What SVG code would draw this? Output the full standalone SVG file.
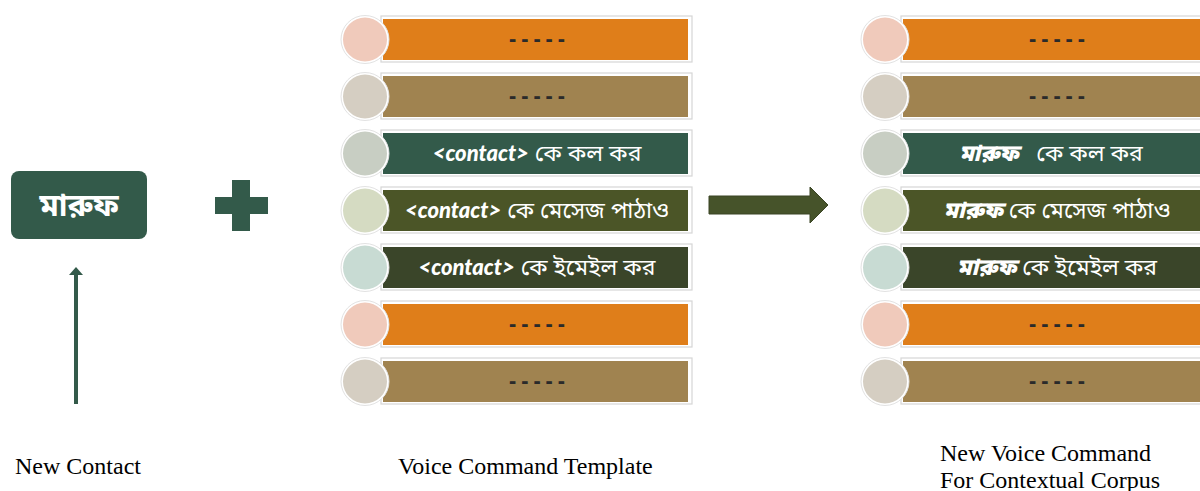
<svg xmlns="http://www.w3.org/2000/svg" width="1200" height="491" viewBox="0 0 1200 491">
  <defs>
    <style>
      .frame { fill: #ffffff; stroke: #d6d6d6; stroke-width: 1.2; }
      .ring { fill: #ffffff; stroke: #e2e2e2; stroke-width: 1; }
      .bn { font-family: "Noto Sans Bengali", "Noto Sans", "DejaVu Sans", sans-serif; font-size: 23px; text-anchor: middle; }
      .lt { fill: #ffffff; }
      .dk { fill: #2a2a2a; font-size: 21px; font-weight: bold; }
      .tag { font-family: "Lato", "Open Sans", sans-serif; font-weight: 900; font-style: italic; font-size: 22px; }
      .nm { font-weight: 900; font-style: italic; }
      .cap { font-family: "Liberation Serif", "Times New Roman", serif; font-size: 24px; fill: #000000; }
      .c-orange { fill: #DF7E1A; }
      .c-tan { fill: #A08350; }
      .c-green { fill: #335A4A; }
      .c-olive { fill: #4B5527; }
      .c-dolive { fill: #3A4529; }
      .p-peach { fill: #F0CABB; }
      .p-stone { fill: #D5CEC2; }
      .p-sage { fill: #C8CEC3; }
      .p-moss { fill: #D5DBC2; }
      .p-mint { fill: #C8DBD3; }
    </style>
    <!-- outer frame shared by every list row -->
    <g id="row-frame">
      <rect class="frame" x="16" y="-3" width="311" height="46"/>
    </g>
  </defs>

  <rect width="1200" height="491" fill="#ffffff"/>

  <!-- contact node -->
  <g id="new-contact">
    <rect x="11" y="171" width="136" height="68" rx="8" fill="#335A4A"/>
    <text class="bn lt" x="79" y="216" style="font-weight:bold;font-size:31px">মারুফ</text>
  </g>

  <!-- plus -->
  <g id="plus">
    <path d="M232,180 H250 V197 H268 V214 H250 V231 H232 V214 H215 V197 H232 Z" fill="#335A4A"/>
  </g>

  <!-- template list -->
  <g id="template-list">
    <g id="t1" transform="translate(365,19)">
      <use href="#row-frame"/>
      <rect class="c-orange" x="18" y="0" width="305" height="41"/>
      <circle class="ring" cx="0" cy="20.5" r="24"/>
      <circle class="p-peach" cx="0" cy="20.5" r="22"/>
      <text class="bn dk" x="172" y="27">- - - - -</text>
    </g>
    <g id="t2" transform="translate(365,76)">
      <use href="#row-frame"/>
      <rect class="c-tan" x="18" y="0" width="305" height="41"/>
      <circle class="ring" cx="0" cy="20.5" r="24"/>
      <circle class="p-stone" cx="0" cy="20.5" r="22"/>
      <text class="bn dk" x="172" y="27">- - - - -</text>
    </g>
    <g id="t3" transform="translate(365,133)">
      <use href="#row-frame"/>
      <rect class="c-green" x="18" y="0" width="305" height="41"/>
      <circle class="ring" cx="0" cy="20.5" r="24"/>
      <circle class="p-sage" cx="0" cy="20.5" r="22"/>
      <text class="bn lt" x="172" y="28"><tspan class="tag">&lt;contact&gt;</tspan> কে কল কর</text>
    </g>
    <g id="t4" transform="translate(365,190)">
      <use href="#row-frame"/>
      <rect class="c-olive" x="18" y="0" width="305" height="41"/>
      <circle class="ring" cx="0" cy="20.5" r="24"/>
      <circle class="p-moss" cx="0" cy="20.5" r="22"/>
      <text class="bn lt" x="172" y="28"><tspan class="tag">&lt;contact&gt;</tspan> কে মেসেজ পাঠাও</text>
    </g>
    <g id="t5" transform="translate(365,247)">
      <use href="#row-frame"/>
      <rect class="c-dolive" x="18" y="0" width="305" height="41"/>
      <circle class="ring" cx="0" cy="20.5" r="24"/>
      <circle class="p-mint" cx="0" cy="20.5" r="22"/>
      <text class="bn lt" x="172" y="28"><tspan class="tag">&lt;contact&gt;</tspan> কে ইমেইল কর</text>
    </g>
    <g id="t6" transform="translate(365,304)">
      <use href="#row-frame"/>
      <rect class="c-orange" x="18" y="0" width="305" height="41"/>
      <circle class="ring" cx="0" cy="20.5" r="24"/>
      <circle class="p-peach" cx="0" cy="20.5" r="22"/>
      <text class="bn dk" x="172" y="27">- - - - -</text>
    </g>
    <g id="t7" transform="translate(365,361)">
      <use href="#row-frame"/>
      <rect class="c-tan" x="18" y="0" width="305" height="41"/>
      <circle class="ring" cx="0" cy="20.5" r="24"/>
      <circle class="p-stone" cx="0" cy="20.5" r="22"/>
      <text class="bn dk" x="172" y="27">- - - - -</text>
    </g>
  </g>

  <!-- generated list -->
  <g id="corpus-list">
    <g id="c1" transform="translate(885,19)">
      <use href="#row-frame"/>
      <rect class="c-orange" x="18" y="0" width="305" height="41"/>
      <circle class="ring" cx="0" cy="20.5" r="24"/>
      <circle class="p-peach" cx="0" cy="20.5" r="22"/>
      <text class="bn dk" x="172" y="27">- - - - -</text>
    </g>
    <g id="c2" transform="translate(885,76)">
      <use href="#row-frame"/>
      <rect class="c-tan" x="18" y="0" width="305" height="41"/>
      <circle class="ring" cx="0" cy="20.5" r="24"/>
      <circle class="p-stone" cx="0" cy="20.5" r="22"/>
      <text class="bn dk" x="172" y="27">- - - - -</text>
    </g>
    <g id="c3" transform="translate(885,133)">
      <use href="#row-frame"/>
      <rect class="c-green" x="18" y="0" width="305" height="41"/>
      <circle class="ring" cx="0" cy="20.5" r="24"/>
      <circle class="p-sage" cx="0" cy="20.5" r="22"/>
      <text class="bn lt" x="166" y="28"><tspan class="nm">মারুফ</tspan><tspan dx="12"> কে কল কর</tspan></text>
    </g>
    <g id="c4" transform="translate(885,190)">
      <use href="#row-frame"/>
      <rect class="c-olive" x="18" y="0" width="305" height="41"/>
      <circle class="ring" cx="0" cy="20.5" r="24"/>
      <circle class="p-moss" cx="0" cy="20.5" r="22"/>
      <text class="bn lt" x="172" y="28"><tspan class="nm">মারুফ</tspan> কে মেসেজ পাঠাও</text>
    </g>
    <g id="c5" transform="translate(885,247)">
      <use href="#row-frame"/>
      <rect class="c-dolive" x="18" y="0" width="305" height="41"/>
      <circle class="ring" cx="0" cy="20.5" r="24"/>
      <circle class="p-mint" cx="0" cy="20.5" r="22"/>
      <text class="bn lt" x="172" y="28"><tspan class="nm">মারুফ</tspan> কে ইমেইল কর</text>
    </g>
    <g id="c6" transform="translate(885,304)">
      <use href="#row-frame"/>
      <rect class="c-orange" x="18" y="0" width="305" height="41"/>
      <circle class="ring" cx="0" cy="20.5" r="24"/>
      <circle class="p-peach" cx="0" cy="20.5" r="22"/>
      <text class="bn dk" x="172" y="27">- - - - -</text>
    </g>
    <g id="c7" transform="translate(885,361)">
      <use href="#row-frame"/>
      <rect class="c-tan" x="18" y="0" width="305" height="41"/>
      <circle class="ring" cx="0" cy="20.5" r="24"/>
      <circle class="p-stone" cx="0" cy="20.5" r="22"/>
      <text class="bn dk" x="172" y="27">- - - - -</text>
    </g>
  </g>

  <!-- connectors -->
  <g id="connectors">
    <rect x="74" y="274" width="4" height="130" fill="#335A4A"/>
    <path d="M76,267 L83,275 H69 Z" fill="#335A4A"/>
    <path d="M709,196 H810 V187 L828,205 L810,223 V214 H709 Z" fill="#46532A" stroke="#3A4524" stroke-width="1"/>
  </g>

  <!-- captions -->
  <g id="captions">
    <text class="cap" x="15" y="474">New Contact</text>
    <text class="cap" x="398" y="474">Voice Command Template</text>
    <text class="cap" x="940" y="461">New Voice Command</text>
    <text class="cap" x="940" y="488">For Contextual Corpus</text>
  </g>
</svg>
